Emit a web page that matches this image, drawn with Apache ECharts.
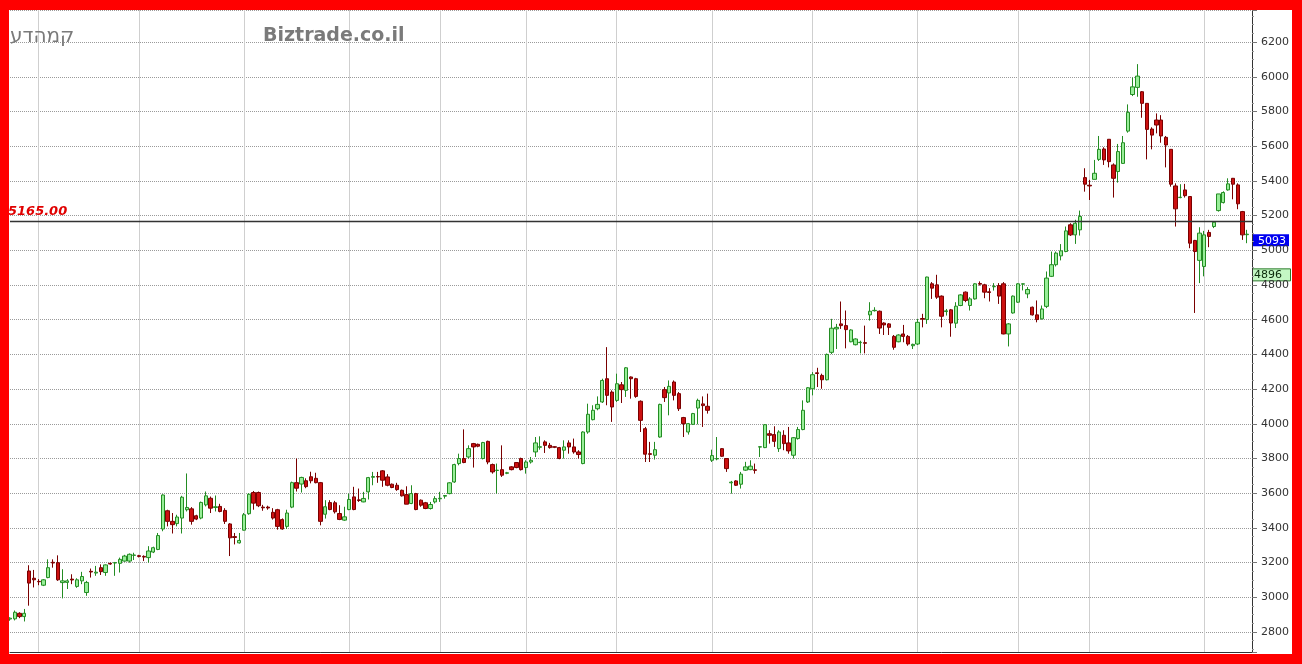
<!DOCTYPE html>
<html><head><meta charset="utf-8">
<script src="https://cdn.jsdelivr.net/npm/echarts@6/dist/echarts.min.js"></script>
<style>
html,body{margin:0;padding:0;background:#fff;}
#wrap{position:relative;width:1302px;height:664px;overflow:hidden;}
#c{position:absolute;left:0;top:0;width:1302px;height:664px;}
#frame{position:absolute;left:0;top:0;width:1302px;height:664px;box-sizing:border-box;border:10px solid #ff0000;border-left-width:9px;pointer-events:none;}
</style></head>
<body><div id="wrap"><div id="c"></div><div id="frame"></div></div>
<script>
// ---- data ----
const opens = [2875,2876,2908,2889,3152,3110,3092,3070,3114,3202,3200,3085,3086,3105,3063,3095,3028,3150,3140,3171,3143,3196,3198,3196,3209,3209,3242,3240,3236,3229,3261,3276,3394,3499,3438,3425,3457,3505,3510,3470,3457,3533,3571,3518,3524,3501,3423,3350,3314,3387,3482,3604,3604,3520,3520,3490,3505,3448,3409,3520,3661,3653,3672,3695,3686,3661,3479,3546,3545,3483,3445,3506,3579,3562,3550,3608,3692,3696,3729,3694,3652,3646,3617,3592,3541,3598,3560,3545,3512,3550,3568,3583,3598,3665,3771,3800,3809,3886,3882,3800,3899,3765,3731,3736,3715,3752,3777,3800,3748,3780,3838,3865,3896,3876,3868,3863,3848,3890,3867,3838,3771,3953,4024,4087,4126,4260,4183,4135,4225,4193,4270,4260,4130,3972,3828,3819,3924,4197,4178,4241,4174,4036,3953,3997,4091,4115,4101,3790,3798,3857,3800,3660,3671,3652,3733,3736,3735,3866,3863,3943,3938,3857,3934,3890,3819,3915,3967,4126,4202,4294,4279,4254,4412,4547,4576,4566,4473,4456,4468,4468,4628,4652,4649,4581,4576,4504,4473,4518,4504,4450,4460,4607,4601,4807,4801,4736,4647,4657,4580,4682,4759,4682,4720,4809,4801,4761,4790,4797,4807,4518,4639,4701,4805,4749,4672,4628,4605,4677,4850,4917,4968,4993,5147,5089,5118,5419,5375,5409,5524,5584,5640,5492,5454,5501,5687,5898,5939,5914,5847,5699,5751,5751,5651,5582,5371,5304,5348,5310,5057,4942,4907,5103,5137,5229,5275,5348,5415,5377,5223,5090];
const closes = [2880,2914,2889,2908,3082,3101,3090,3101,3171,3198,3101,3095,3095,3100,3101,3120,3086,3146,3145,3148,3187,3192,3200,3219,3238,3248,3244,3236,3232,3267,3286,3356,3590,3438,3419,3463,3577,3518,3438,3451,3547,3585,3514,3522,3495,3438,3343,3345,3328,3476,3594,3543,3528,3516,3515,3457,3409,3394,3486,3661,3629,3691,3638,3672,3661,3438,3522,3506,3493,3449,3464,3564,3506,3558,3570,3690,3696,3694,3675,3646,3633,3621,3585,3537,3598,3506,3531,3512,3535,3569,3571,3587,3660,3765,3800,3777,3857,3867,3871,3892,3780,3723,3733,3704,3718,3736,3748,3736,3780,3790,3890,3868,3876,3863,3865,3800,3867,3867,3838,3823,3953,4055,4078,4112,4250,4164,4097,4231,4197,4323,4260,4158,4020,3825,3824,3851,4112,4151,4216,4164,4087,4001,4001,4059,4135,4105,4078,3817,3800,3813,3742,3664,3646,3710,3752,3756,3732,3868,3995,3934,3899,3953,3886,3844,3920,3967,4078,4208,4283,4290,4254,4400,4551,4556,4566,4543,4541,4489,4470,4464,4649,4654,4552,4570,4556,4441,4512,4504,4460,4458,4585,4603,4846,4782,4730,4620,4651,4581,4678,4743,4711,4720,4807,4805,4759,4757,4792,4736,4518,4576,4736,4807,4807,4774,4628,4601,4662,4840,4917,4984,4997,5112,5089,5156,5195,5381,5371,5444,5582,5521,5511,5415,5569,5620,5795,5942,6004,5847,5697,5664,5722,5659,5607,5381,5239,5306,5315,5041,4993,5099,5089,5080,5162,5325,5333,5383,5381,5268,5089,5093];
const lows = [2865,2867,2880,2861,2952,3057,3070,3065,3110,3171,3095,2994,3048,3076,3055,3076,3009,3114,3124,3129,3124,3188,3124,3143,3205,3200,3215,3230,3209,3200,3255,3272,3381,3409,3368,3409,3368,3495,3419,3445,3450,3524,3486,3495,3490,3423,3238,3305,3310,3385,3476,3505,3520,3499,3505,3448,3390,3390,3394,3514,3610,3604,3629,3657,3657,3415,3454,3502,3483,3445,3441,3502,3502,3550,3548,3564,3646,3660,3637,3640,3629,3614,3581,3537,3537,3502,3522,3508,3506,3541,3550,3569,3594,3660,3761,3773,3800,3748,3865,3795,3767,3713,3598,3694,3710,3732,3744,3731,3713,3771,3809,3851,3832,3857,3860,3796,3800,3828,3828,3800,3767,3943,4020,4078,4120,4107,4011,4126,4120,4155,4145,4150,3953,3780,3780,3794,3920,4126,4049,4135,4074,3924,3938,3993,3997,3982,4059,3780,3790,3810,3723,3598,3642,3627,3729,3733,3713,3809,3860,3886,3867,3838,3848,3828,3800,3909,3963,4120,4164,4212,4202,4250,4402,4431,4547,4435,4470,4452,4406,4406,4595,4647,4518,4512,4512,4427,4470,4470,4450,4431,4454,4556,4576,4720,4720,4556,4624,4502,4552,4678,4701,4653,4716,4797,4724,4705,4768,4691,4516,4446,4635,4697,4769,4724,4624,4585,4601,4667,4846,4907,4942,4989,5083,5037,5085,5338,5290,5409,5515,5492,5478,5304,5390,5498,5678,5889,5885,5764,5524,5582,5674,5620,5478,5367,5137,5300,5304,5012,4639,4811,4850,5018,5128,5223,5270,5344,5294,5237,5060,5041];
const highs = [2885,2924,2914,2933,3185,3158,3105,3105,3219,3219,3242,3162,3105,3133,3110,3147,3095,3166,3181,3190,3190,3200,3204,3229,3245,3253,3257,3245,3242,3295,3292,3371,3594,3505,3486,3476,3585,3714,3520,3476,3552,3610,3581,3587,3539,3514,3428,3371,3371,3486,3600,3613,3610,3533,3528,3514,3510,3455,3505,3667,3800,3695,3686,3724,3718,3665,3560,3560,3556,3531,3522,3598,3637,3627,3608,3694,3723,3723,3733,3710,3656,3660,3621,3640,3646,3602,3564,3550,3550,3583,3608,3589,3664,3770,3828,3968,3876,3890,3886,3896,3903,3771,3771,3876,3723,3756,3780,3805,3790,3809,3924,3928,3905,3890,3871,3867,3905,3905,3915,3848,3957,4116,4107,4158,4260,4442,4193,4289,4241,4327,4273,4265,4135,3982,3896,3896,4116,4212,4250,4250,4183,4040,4005,4063,4145,4158,4174,3851,3924,3860,3802,3671,3675,3723,3781,3790,3771,3870,3999,3963,3986,3963,3963,3982,3924,3982,4135,4212,4298,4323,4289,4405,4605,4576,4705,4653,4545,4493,4479,4566,4701,4672,4653,4585,4581,4512,4516,4570,4512,4462,4605,4634,4848,4817,4859,4740,4662,4662,4701,4747,4763,4730,4811,4821,4807,4782,4811,4811,4817,4581,4740,4811,4809,4788,4676,4711,4682,4878,4993,4993,5036,5137,5156,5176,5229,5473,5406,5521,5659,5594,5640,5501,5613,5659,5841,5996,6073,5918,5847,5709,5789,5779,5659,5582,5386,5381,5383,5310,5060,5133,5112,5118,5166,5325,5340,5415,5417,5386,5227,5118];
const gridDays = [6, 27, 49, 71, 90, 108, 127, 147, 168, 190, 211, 226, 250];   // vertical (period) lines
const refLine = 5165;          // horizontal reference line
const refLineLabel = '5165.00';
const lastPrice = 5093;        // blue box
const otherLevel = 4896;       // green box
const yTickStep = 200;
const titleHe = 'קמהדע';
const titleSite = 'Biztrade.co.il';

const categories = Array.from({length: opens.length + 1}, (_, i) => String(i + 1));
const candles = opens.map((o, i) => [o, closes[i], lows[i], highs[i]]);
const gridSet = new Set(gridDays);

const chart = echarts.init(document.getElementById('c'), null, {renderer: 'canvas', width: 1302, height: 664});
chart.setOption({
  animation: false,
  backgroundColor: '#ffffff',
  grid: {left: 10, right: 50, top: 10, bottom: 12, containLabel: false, outerBoundsMode: 'none'},
  xAxis: {
    type: 'category', data: categories, boundaryGap: false,
    axisLine: {show: true, lineStyle: {color: '#333', width: 1}},
    axisTick: {show: false}, axisLabel: {show: false},
    splitLine: {show: true, interval: (i) => gridSet.has(i), lineStyle: {color: '#cfcfcf', width: 1}}
  },
  yAxis: {
    type: 'value', position: 'right', min: 2685, max: 6385, splitNumber: 18,
    axisLine: {show: true, lineStyle: {color: '#333', width: 1}},
    axisTick: {show: true, inside: false, length: 5, lineStyle: {color: '#777'}},
    minorTick: {show: true, splitNumber: 4, length: 2, lineStyle: {color: '#999'}},
    axisLabel: {
      formatter: (v) => (Math.abs(v % yTickStep) < 1e-6 ? String(v) : ''),
      color: '#333', fontSize: 11, fontFamily: 'DejaVu Sans', margin: 9
    },
    splitLine: {show: true, lineStyle: {type: 'dotted', color: '#9a9a9a', width: 1}}
  },
  series: [{
    type: 'candlestick', data: candles, barWidth: 3.8,
    itemStyle: {color: '#98ee98', color0: '#cc1010', borderColor: '#238c23', borderColor0: '#7a0000', borderWidth: 1},
    markLine: {
      symbol: 'none', silent: true, animation: false,
      lineStyle: {color: '#333', width: 1.3, type: 'solid'},
      label: {show: false},
      data: [{yAxis: refLine}]
    }
  }]
});

const yRef = chart.convertToPixel({yAxisIndex: 0}, refLine);
const yLast = chart.convertToPixel({yAxisIndex: 0}, lastPrice);
const yOther = chart.convertToPixel({yAxisIndex: 0}, otherLevel);
chart.setOption({
  graphic: [
    {type: 'text', left: 10, top: 27, style: {text: titleHe, fill: '#7a7a7a', font: '20px "DejaVu Sans"'}},
    {type: 'text', left: 263, top: 27, style: {text: titleSite, fill: '#7a7a7a', font: 'bold 19px "DejaVu Sans"'}},
    {type: 'text', style: {x: 8, y: yRef - 4, text: refLineLabel, fill: '#e00000', font: 'italic bold 13px "DejaVu Sans"', verticalAlign: 'bottom', textVerticalAlign: 'bottom'}},
    {type: 'rect', shape: {x: 1253, y: yLast, width: 36, height: 12}, style: {fill: '#0000f0'}},
    {type: 'text', style: {x: 1258, y: yLast + 6.5, text: String(lastPrice), fill: '#ffffff', font: '11px "DejaVu Sans"', verticalAlign: 'middle', textVerticalAlign: 'middle'}},
    {type: 'rect', shape: {x: 1252.5, y: yOther + 0.5, width: 38, height: 12}, style: {fill: '#c4f7c4', stroke: '#2a7a2a', lineWidth: 1}},
    {type: 'text', style: {x: 1254, y: yOther + 7, text: String(otherLevel), fill: '#0a2a0a', font: '11px "DejaVu Sans"', verticalAlign: 'middle', textVerticalAlign: 'middle'}}
  ]
});
</script></body></html>
